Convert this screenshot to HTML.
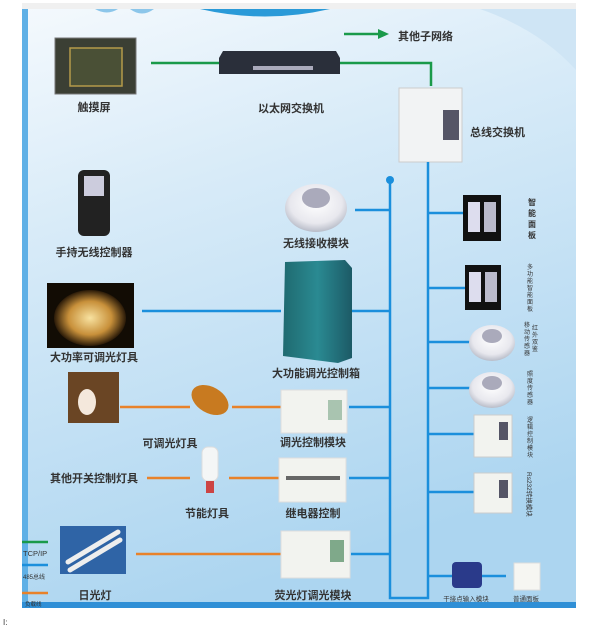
<!DOCTYPE html>
<html><head><meta charset="utf-8"><style>
html,body{margin:0;padding:0;background:#fff;}
svg{display:block;}
text{font-family:"Liberation Sans","Noto Sans CJK SC",sans-serif;fill:#333;}
</style></head><body>
<svg width="612" height="627" viewBox="0 0 612 627" xmlns="http://www.w3.org/2000/svg">
<defs>
<linearGradient id="bg" x1="0" y1="0" x2="0.3" y2="1">
<stop offset="0" stop-color="#f4f9fd"/><stop offset="0.35" stop-color="#d8ebf8"/><stop offset="1" stop-color="#acd5f0"/>
</linearGradient>
<radialGradient id="sph" cx="0.5" cy="0.4" r="0.6"><stop offset="0" stop-color="#fff"/><stop offset="0.7" stop-color="#e8e8ee"/><stop offset="1" stop-color="#b8bcc8"/></radialGradient>
<linearGradient id="box" x1="0" y1="0" x2="1" y2="0"><stop offset="0" stop-color="#1f6a70"/><stop offset="0.5" stop-color="#2a8a92"/><stop offset="1" stop-color="#1c5a66"/></linearGradient>
<radialGradient id="ch" cx="0.5" cy="0.5" r="0.5"><stop offset="0" stop-color="#f8e2a0"/><stop offset="0.6" stop-color="#c8903a"/><stop offset="1" stop-color="#2a1a08"/></radialGradient>
</defs>
<rect x="0" y="0" width="612" height="627" fill="#fff"/>
<rect x="22" y="3" width="554" height="6" fill="#f0f0f0"/>
<rect x="22" y="9" width="554" height="599" fill="url(#bg)"/>
<path d="M480 9 Q540 30 576 70 L576 9 Z" fill="#cfe5f5"/>
<path d="M200 9 Q265 24 330 9 Z" fill="#2a9ad8"/>
<path d="M95 9 Q107 16 118 9 Z" fill="#8cc6ea"/>
<path d="M130 9 Q142 18 154 9 Z" fill="#8cc6ea"/>
<rect x="22" y="9" width="6" height="593" fill="#5fb0e6"/>
<rect x="22" y="602" width="554" height="6" fill="#2f8fd6"/>

<path d="M151 63 H219 M340 63 H431 V86" stroke="#1a9a4a" stroke-width="2.5" fill="none"/>
<path d="M344 34 H380" stroke="#1a9a4a" stroke-width="2.5"/>
<path d="M378 29 L389 34 L378 39 Z" fill="#1a9a4a"/>
<text x="398" y="40" font-size="11" font-weight="bold">其他子网络</text>

<rect x="55" y="38" width="81" height="56" fill="#3b3f34" stroke="#777" stroke-width="1"/>
<rect x="70" y="48" width="52" height="38" fill="#4a5036" stroke="#b59a4a" stroke-width="1.5"/>
<text x="94" y="111" font-size="11" font-weight="bold" text-anchor="middle">触摸屏</text>
<path d="M223 51 H336 L340 58 V74 H219 V58 Z" fill="#2a2f3a"/>
<rect x="253" y="66" width="60" height="4" fill="#aab"/>
<text x="291" y="112" font-size="11" font-weight="bold" text-anchor="middle">以太网交换机</text>
<rect x="399" y="88" width="63" height="74" fill="#f2f3f4" stroke="#ccc"/>
<rect x="443" y="110" width="16" height="30" fill="#556"/>
<text x="470" y="136" font-size="11" font-weight="bold">总线交换机</text>

<g stroke="#1b8fdc" stroke-width="2.5" fill="none">
<path d="M390 180 V598 H428 V162"/>
<path d="M355 210 H390 M352 311 H390 M349 407 H390 M349 478 H390 M351 554 H390 M142 311 H281"/>
<path d="M428 213 H465 M428 288 H465 M428 342 H470 M428 388 H470 M428 434 H474 M428 492 H474 M428 576 H506"/>
</g>
<circle cx="390" cy="180" r="4" fill="#1b8fdc"/>

<rect x="78" y="170" width="32" height="66" rx="6" fill="#222"/>
<rect x="84" y="176" width="20" height="20" fill="#ccd"/>
<text x="94" y="256" font-size="11" font-weight="bold" text-anchor="middle">手持无线控制器</text>
<ellipse cx="316" cy="208" rx="31" ry="24" fill="url(#sph)"/>
<ellipse cx="316" cy="198" rx="14" ry="10" fill="#aab"/>
<text x="316" y="247" font-size="11" font-weight="bold" text-anchor="middle">无线接收模块</text>
<rect x="47" y="283" width="87" height="65" fill="#120c04"/>
<ellipse cx="90" cy="318" rx="36" ry="28" fill="url(#ch)"/>
<text x="94" y="361" font-size="11" font-weight="bold" text-anchor="middle">大功率可调光灯具</text>
<path d="M285 262 L345 260 L352 268 V358 L338 363 L283 356 Z" fill="url(#box)"/>
<text x="316" y="377" font-size="11" font-weight="bold" text-anchor="middle">大功能调光控制箱</text>

<g stroke="#e8822a" stroke-width="2.5">
<path d="M120 407 H190 M232 407 H281 M147 478 H190 M229 478 H279 M136 554 H281"/>
</g>
<rect x="68" y="372" width="51" height="51" fill="#6a4524"/>
<ellipse cx="87" cy="402" rx="9" ry="13" fill="#f4e8dc"/>
<ellipse cx="210" cy="400" rx="20" ry="13" fill="#c87a20" transform="rotate(30 210 400)"/>
<rect x="281" y="390" width="66" height="43" fill="#f2f3ef" stroke="#ddd"/>
<rect x="328" y="400" width="14" height="20" fill="#a9c4b0"/>
<text x="170" y="447" font-size="11" font-weight="bold" text-anchor="middle">可调光灯具</text>
<text x="313" y="446" font-size="11" font-weight="bold" text-anchor="middle">调光控制模块</text>

<text x="94" y="482" font-size="11" font-weight="bold" text-anchor="middle">其他开关控制灯具</text>
<rect x="202" y="447" width="16" height="34" rx="6" fill="#f4f6f6" stroke="#ddd"/>
<rect x="206" y="481" width="8" height="12" fill="#c44"/>
<rect x="279" y="458" width="67" height="44" fill="#f2f3ef" stroke="#ddd"/>
<rect x="286" y="476" width="54" height="4" fill="#666"/>
<text x="207" y="517" font-size="11" font-weight="bold" text-anchor="middle">节能灯具</text>
<text x="313" y="517" font-size="11" font-weight="bold" text-anchor="middle">继电器控制</text>

<rect x="60" y="526" width="66" height="48" fill="#2f64a6"/>
<path d="M68 562 L118 532 M70 570 L120 540" stroke="#eee" stroke-width="5" stroke-linecap="round"/>
<rect x="281" y="531" width="69" height="47" fill="#f2f3ef" stroke="#ddd"/>
<rect x="330" y="540" width="14" height="22" fill="#7fa98a"/>
<text x="95" y="599" font-size="11" font-weight="bold" text-anchor="middle">日光灯</text>
<text x="313" y="599" font-size="11" font-weight="bold" text-anchor="middle">荧光灯调光模块</text>

<path d="M22 542 H48" stroke="#1a9a4a" stroke-width="2.5"/>
<text x="23" y="556" font-size="7.5">TCP/IP</text>
<path d="M22 565 H48" stroke="#1b8fdc" stroke-width="2.5"/>
<text x="23" y="579" font-size="6">485总线</text>
<path d="M22 593 H48" stroke="#e8822a" stroke-width="2.5"/>
<text x="25" y="606" font-size="5.5">负载线</text>

<rect x="463" y="195" width="38" height="46" fill="#111"/>
<rect x="468" y="202" width="12" height="30" fill="#dde"/><rect x="484" y="202" width="12" height="30" fill="#bbc"/>
<rect x="465" y="265" width="36" height="45" fill="#111"/>
<rect x="469" y="272" width="12" height="30" fill="#dde"/><rect x="485" y="272" width="12" height="30" fill="#bbc"/>
<ellipse cx="492" cy="343" rx="23" ry="18" fill="url(#sph)"/><ellipse cx="492" cy="336" rx="10" ry="7" fill="#aab"/>
<ellipse cx="492" cy="390" rx="23" ry="18" fill="url(#sph)"/><ellipse cx="492" cy="383" rx="10" ry="7" fill="#aab"/>
<rect x="474" y="415" width="38" height="42" fill="#f2f3ef" stroke="#ccc"/><rect x="499" y="422" width="9" height="18" fill="#556"/>
<rect x="474" y="473" width="38" height="40" fill="#f2f3ef" stroke="#ccc"/><rect x="499" y="480" width="9" height="18" fill="#556"/>
<rect x="452" y="562" width="30" height="26" rx="4" fill="#2a3a8a"/>
<rect x="514" y="563" width="26" height="27" fill="#f6f6f2" stroke="#ddd"/>
<text x="466" y="601" font-size="6.5" text-anchor="middle">干接点输入模块</text>
<text x="526" y="601" font-size="6.5" text-anchor="middle">普通面板</text>
<g font-size="8" font-weight="bold" text-anchor="middle">
<text x="532" y="205">智</text><text x="532" y="216">能</text><text x="532" y="227">面</text><text x="532" y="238">板</text>
</g>
<g font-size="6" text-anchor="middle">
<text x="530" y="269">多</text><text x="530" y="276">功</text><text x="530" y="283">能</text><text x="530" y="290">智</text><text x="530" y="297">能</text><text x="530" y="304">面</text><text x="530" y="311">板</text>
<text x="535" y="330">红</text><text x="535" y="337">外</text><text x="535" y="344">双</text><text x="535" y="351">鉴</text>
<text x="527" y="327">移</text><text x="527" y="334">动</text><text x="527" y="341">传</text><text x="527" y="348">感</text><text x="527" y="355">器</text>
<text x="530" y="376">照</text><text x="530" y="383">度</text><text x="530" y="390">传</text><text x="530" y="397">感</text><text x="530" y="404">器</text>
<text x="530" y="422">逻</text><text x="530" y="429">辑</text><text x="530" y="436">控</text><text x="530" y="443">制</text><text x="530" y="450">模</text><text x="530" y="457">块</text>
</g>
<text x="527" y="472" font-size="6.5" transform="rotate(90 527 472)">Rs232转换模块</text>
<text x="3" y="625" font-size="8">I:</text>
</svg>
</body></html>
